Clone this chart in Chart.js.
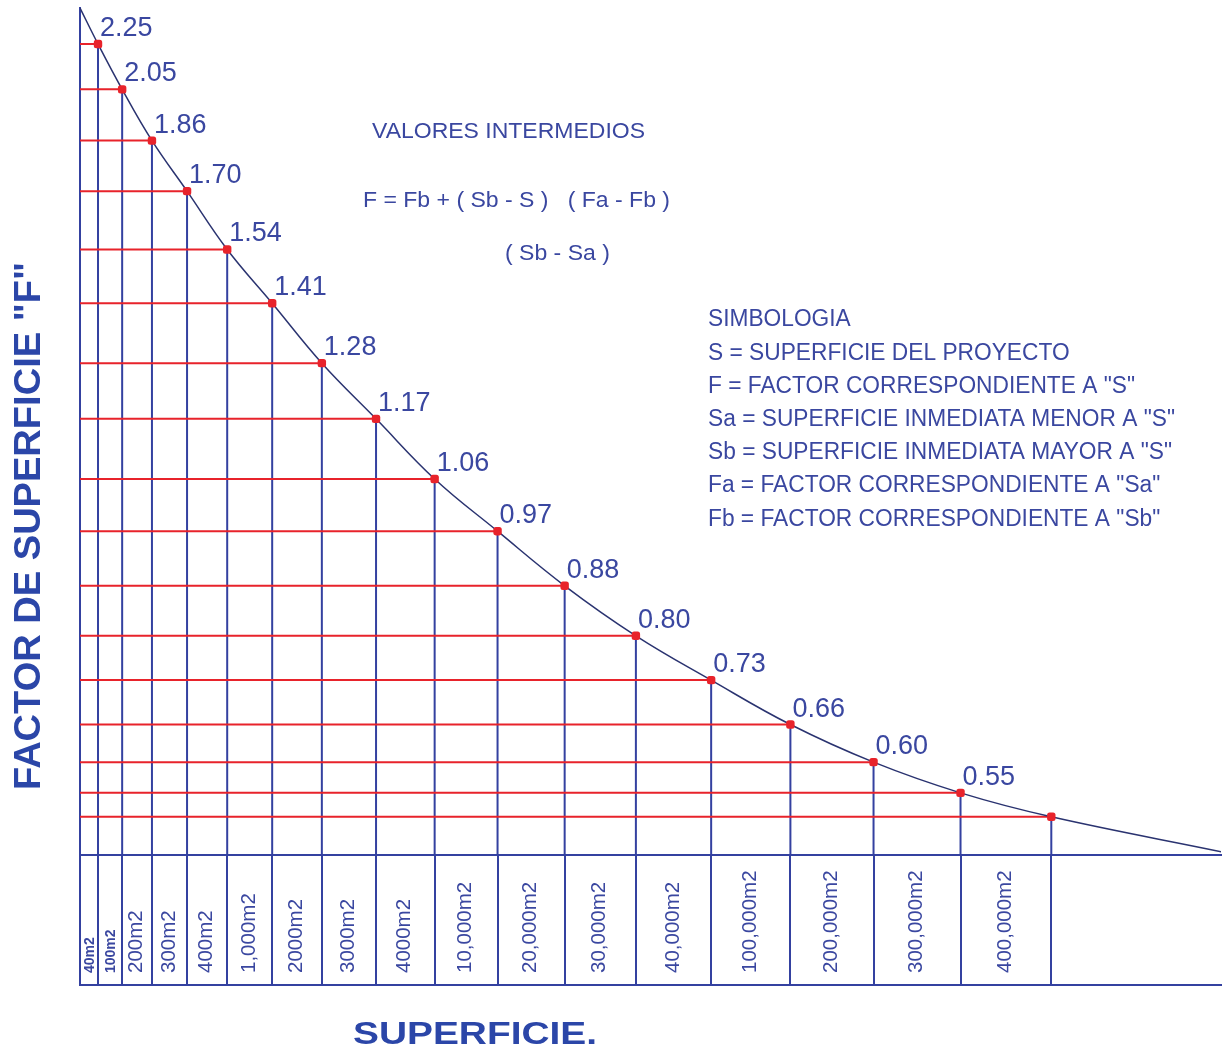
<!DOCTYPE html>
<html>
<head>
<meta charset="utf-8">
<script src="https://cdn.jsdelivr.net/npm/chart.js@4.4.1/dist/chart.umd.min.js"></script>
<style>
  html, body { margin: 0; padding: 0; background: #ffffff; }
  canvas { display: block; }
</style>
</head>
<body>
<canvas id="chart" width="1226" height="1051"></canvas>
<script>
// ---------------- data ----------------
const areaCategories = ['40m2', '100m2', '200m2', '300m2', '400m2', '1,000m2', '2000m2', '3000m2', '4000m2',
  '10,000m2', '20,000m2', '30,000m2', '40,000m2', '100,000m2', '200,000m2', '300,000m2', '400,000m2'];
const surfaceFactors = [2.25, 2.05, 1.86, 1.70, 1.54, 1.41, 1.28, 1.17, 1.06, 0.97, 0.88, 0.80, 0.73, 0.66, 0.60, 0.55, 0.51];
const factorLabels = ['2.25', '2.05', '1.86', '1.70', '1.54', '1.41', '1.28', '1.17', '1.06', '0.97', '0.88',
  '0.80', '0.73', '0.66', '0.60', '0.55', ''];
const curveStartFactor = 2.439;   // curve leaves the top of the F axis
const curveEndFactor = 0.449;     // curve value at the right edge of the drawing
const formulaTitle = 'VALORES INTERMEDIOS';
const formulaLine = 'F = Fb + ( Sb - S )   ( Fa - Fb )';
const formulaDenominator = '( Sb - Sa )';
const legendLines = [
  'SIMBOLOGIA',
  'S = SUPERFICIE DEL PROYECTO',
  'F = FACTOR CORRESPONDIENTE A "S"',
  'Sa = SUPERFICIE INMEDIATA MENOR A "S"',
  'Sb = SUPERFICIE INMEDIATA MAYOR A "S"',
  'Fa = FACTOR CORRESPONDIENTE A "Sa"',
  'Fb = FACTOR CORRESPONDIENTE A "Sb"'
];
const yTitleText = 'FACTOR DE SUPERFICIE "F"';
const xTitleText = 'SUPERFICIE.';

// ---------------- styling ----------------
const BLUE = '#3441a0';
const RED = '#e8232b';
const CURVE = '#2a3370';
const TEXT = '#3a47a0';
const TITLE = '#2b46a8';
const FONT = '"Liberation Sans", Arial, Helvetica, sans-serif';

// axis ranges (column index on x, factor F on y)
const X_MIN = 0, X_MAX = 18.77;
const Y_MIN = 0.443, Y_MAX = 2.439;

// ---------------- custom scales reproducing the schematic drawing ----------------
// x: columns that widen to the right
class PowerScale extends Chart.LinearScale {
  _tf(v) {
    const o = this.options;
    return Math.pow(v + (o.shift || 0), o.exponent);
  }
  getPixelForValue(value) {
    if (value === null || value === undefined || isNaN(value)) return NaN;
    const a = this._tf(this.min), b = this._tf(this.max);
    return this.getPixelForDecimal((this._tf(value) - a) / (b - a));
  }
  getValueForPixel(pixel) {
    const o = this.options;
    const a = this._tf(this.min), b = this._tf(this.max);
    return Math.pow(a + this.getDecimalForPixel(pixel) * (b - a), 1 / o.exponent) - (o.shift || 0);
  }
}
PowerScale.id = 'power';
PowerScale.defaults = { exponent: 1, shift: 0 };

// y: logarithmic in the middle, compressed towards both ends
class SigmoidLogScale extends Chart.LinearScale {
  _tf(v) {
    const o = this.options;
    return Math.tanh((Math.log(v) - o.center) / o.spread);
  }
  getPixelForValue(value) {
    if (value === null || value === undefined || isNaN(value) || value <= 0) return NaN;
    const a = this._tf(this.min), b = this._tf(this.max);
    return this.getPixelForDecimal((this._tf(value) - a) / (b - a));
  }
  getValueForPixel(pixel) {
    const o = this.options;
    const a = this._tf(this.min), b = this._tf(this.max);
    const t = a + this.getDecimalForPixel(pixel) * (b - a);
    return Math.exp(o.center + o.spread * Math.atanh(t));
  }
}
SigmoidLogScale.id = 'sigmoidLog';
SigmoidLogScale.defaults = { center: 0, spread: 1 };
Chart.register(PowerScale, SigmoidLogScale);

// ---------------- datasets built from the arrays ----------------
const columnBoundaries = [0].concat(areaCategories.map((c, i) => i + 1));
const pointData = surfaceFactors.map((f, i) => ({ x: i + 1, y: f }));
const curveData = [{ x: X_MIN, y: curveStartFactor }].concat(pointData, [{ x: X_MAX, y: curveEndFactor }]);
const redLines = [];
const blueLines = [];
surfaceFactors.forEach((f, i) => {
  redLines.push({ x: X_MIN, y: f }, { x: i + 1, y: f }, { x: i + 1, y: null });
  blueLines.push({ x: i + 1, y: Y_MIN }, { x: i + 1, y: f }, { x: i + 1, y: null });
});

// ---------------- text plugin ----------------
function fittedText(ctx, text, x, y, font, sx, align) {
  ctx.save();
  ctx.font = font;
  ctx.translate(x, y);
  ctx.scale(sx, 1);
  ctx.textAlign = align || 'left';
  ctx.fillText(text, 0, 0);
  ctx.restore();
}

const textPlugin = {
  id: 'chartTexts',
  afterDraw(chart) {
    const { ctx, scales } = chart;
    const xs = scales.x;
    ctx.save();
    ctx.textBaseline = 'alphabetic';
    ctx.fillStyle = TEXT;

    // value labels next to each point
    ctx.font = '27px ' + FONT;
    ctx.textAlign = 'left';
    chart.getDatasetMeta(0).data.forEach((pt, i) => {
      if (factorLabels[i]) ctx.fillText(factorLabels[i], pt.x + 2, pt.y - 8);
    });

    // category labels inside the band below the axis
    ctx.textBaseline = 'middle';
    areaCategories.forEach((c, i) => {
      const cx = xs.getPixelForValue(i + 0.5);
      ctx.save();
      ctx.translate(cx + (i < 2 ? 1.5 : 0), xs.bottom - 12);
      ctx.rotate(-Math.PI / 2);
      ctx.font = i < 2 ? 'bold 14px ' + FONT : '20.5px ' + FONT;
      ctx.textAlign = 'left';
      ctx.fillText(c, 0, 0);
      ctx.restore();
    });

    // formula block
    ctx.font = '22px ' + FONT;
    const fsx = 307 / ctx.measureText(formulaLine).width;
    fittedText(ctx, formulaTitle, 372, 132, '22px ' + FONT, 273 / (ctx.measureText(formulaTitle).width), 'left');
    fittedText(ctx, formulaLine, 363, 201, '22px ' + FONT, fsx, 'left');
    fittedText(ctx, formulaDenominator, 505, 254, '22px ' + FONT, fsx, 'left');

    // legend (simbologia)
    ctx.font = '23px ' + FONT;
    const lsx = 467 / ctx.measureText(legendLines[3]).width;
    legendLines.forEach((line, i) => {
      fittedText(ctx, line, 708, 320 + i * 33.2, '23px ' + FONT, lsx, 'left');
    });

    // axis titles
    ctx.fillStyle = TITLE;
    ctx.font = 'bold 37px ' + FONT;
    const ysx = 528 / ctx.measureText(yTitleText).width;
    ctx.save();
    ctx.translate(30, 526);
    ctx.rotate(-Math.PI / 2);
    ctx.scale(ysx, 1);
    ctx.textAlign = 'center';
    ctx.fillText(yTitleText, 0, 0);
    ctx.restore();

    ctx.font = 'bold 32px ' + FONT;
    const xsx = 244 / ctx.measureText(xTitleText).width;
    fittedText(ctx, xTitleText, 475, 1035, 'bold 32px ' + FONT, xsx, 'center');
    ctx.restore();
  }
};

// ---------------- chart ----------------
new Chart(document.getElementById('chart').getContext('2d'), {
  type: 'line',
  data: {
    datasets: [
      { label: 'F', data: pointData, showLine: false, pointStyle: 'rectRounded', pointRadius: 4.9,
        pointBackgroundColor: RED, pointBorderColor: RED, pointBorderWidth: 0, order: 0 },
      { label: 'curva', data: curveData, borderColor: CURVE, borderWidth: 1.5,
        pointRadius: 0, tension: 0.4, fill: false, order: 1 },
      { label: 'horizontales', data: redLines, borderColor: RED, borderWidth: 2, pointRadius: 0,
        spanGaps: false, order: 2 },
      { label: 'verticales', data: blueLines, borderColor: BLUE, borderWidth: 2, pointRadius: 0,
        spanGaps: false, order: 3 }
    ]
  },
  options: {
    responsive: false,
    animation: false,
    devicePixelRatio: 1,
    events: [],
    layout: { padding: { left: 80, top: 8, right: 0, bottom: 66 } },
    plugins: { legend: { display: false }, tooltip: { enabled: false } },
    scales: {
      x: {
        type: 'power', exponent: 1.75, shift: 1.6, min: X_MIN, max: X_MAX, bounds: 'data', position: 'bottom',
        afterBuildTicks: (s) => { s.ticks = columnBoundaries.map(v => ({ value: v })); },
        grid: { display: true, drawOnChartArea: false, drawTicks: true, tickLength: 130, color: BLUE, lineWidth: 2 },
        border: { display: true, color: BLUE, width: 2 },
        ticks: { display: false }
      },
      xBand: {
        type: 'linear', position: 'bottom', weight: 1, min: 0, max: 1,
        grid: { display: false, drawTicks: false },
        border: { display: true, color: BLUE, width: 2 },
        ticks: { display: false }
      },
      y: {
        type: 'sigmoidLog', center: 0.25, spread: 1.02, min: Y_MIN, max: Y_MAX, bounds: 'data', position: 'left',
        grid: { display: false, drawTicks: false },
        border: { display: true, color: BLUE, width: 2 },
        ticks: { display: false }
      }
    }
  },
  plugins: [textPlugin]
});
</script>
</body>
</html>
